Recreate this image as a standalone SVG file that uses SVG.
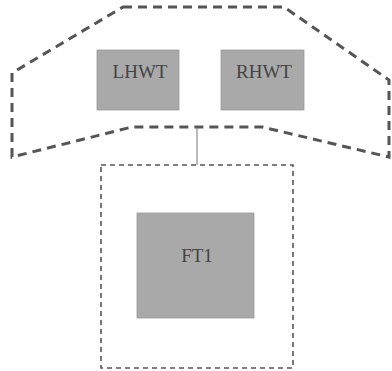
<svg xmlns="http://www.w3.org/2000/svg" width="392" height="371" viewBox="0 0 392 371">
<style>
.box{fill:#a9a9a9;stroke:#999;stroke-width:0.8}
.lbl{font-family:"Liberation Serif",serif;font-size:19px;fill:#444;text-anchor:middle}
.grp{fill:none;stroke:#555;stroke-width:3;stroke-dasharray:9,6}
.grp2{fill:none;stroke:#555;stroke-width:1.6;stroke-dasharray:5,4}
.conn{stroke:#777;stroke-width:1;fill:none}
</style>
<rect width="392" height="371" fill="#fff"/>
<g id="hw-group"><polygon class="grp" points="123,7 284,7 389,80 389,157 262,127 132,127 12,157 12,73"/></g>
<g id="ft-group"><rect class="grp2" x="101" y="165" width="192" height="203"/></g>
<g id="connectors"><line class="conn" x1="197" y1="127" x2="197" y2="165"/></g>
<g id="LHWT"><rect class="box" x="97" y="50" width="82" height="60"/><text class="lbl" x="140" y="78">LHWT</text></g>
<g id="RHWT"><rect class="box" x="221" y="50" width="83" height="60"/><text class="lbl" x="264" y="78">RHWT</text></g>
<g id="FT1"><rect class="box" x="137" y="213" width="117" height="105"/><text class="lbl" x="197" y="262">FT1</text></g>
</svg>
